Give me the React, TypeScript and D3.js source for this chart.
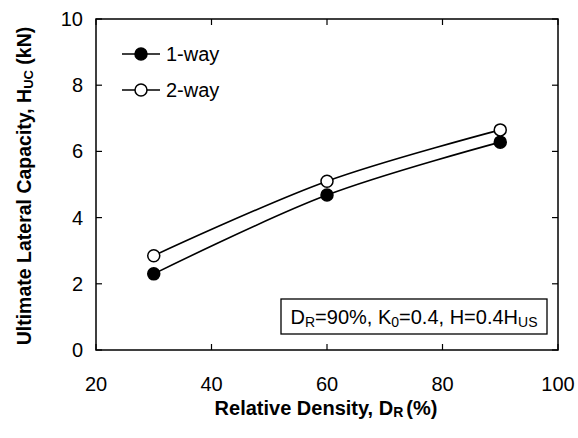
import React from "react";
import * as d3 from "d3";

const densities = [30, 60, 90];
const oneWay = [2.3, 4.68, 6.28];
const twoWay = [2.85, 5.1, 6.65];
const xTicks = [20, 40, 60, 80, 100];
const yTicks = [0, 2, 4, 6, 8, 10];
const seriesNames = ["1-way", "2-way"];

const W = 578, H = 438;
const L = 96, R = 558, T = 19, B = 350;
const font = "'Liberation Sans', Arial, sans-serif";

export default function App() {
  const x = d3.scaleLinear().domain([20, 100]).range([L, R]);
  const y = d3.scaleLinear().domain([0, 10]).range([B, T]);
  const line = d3
    .line<[number, number]>()
    .x((d) => x(d[0]))
    .y((d) => y(d[1]))
    .curve(d3.curveCatmullRom.alpha(0.5));
  const series = [
    { name: seriesNames[0], vals: oneWay, fill: "#000" },
    { name: seriesNames[1], vals: twoWay, fill: "#fff" },
  ];
  return (
    <svg width={W} height={H} style={{ position: "absolute", left: 0, top: 0 }} fontFamily={font}>
      <rect x={0} y={0} width={W} height={H} fill="#fff" />
      <rect x={L} y={T} width={R - L} height={B - T} fill="none" stroke="#000" strokeWidth={1.5} />
      {xTicks.map((t) => (
        <g key={"x" + t}>
          <line x1={x(t)} x2={x(t)} y1={B} y2={B - 6} stroke="#000" strokeWidth={1.2} />
          <line x1={x(t)} x2={x(t)} y1={T} y2={T + 6} stroke="#000" strokeWidth={1.2} />
          <text x={x(t)} y={391} textAnchor="middle" fontSize={20}>{t}</text>
        </g>
      ))}
      {yTicks.map((t) => (
        <g key={"y" + t}>
          <line x1={L} x2={L + 6} y1={y(t)} y2={y(t)} stroke="#000" strokeWidth={1.2} />
          <line x1={R} x2={R - 6} y1={y(t)} y2={y(t)} stroke="#000" strokeWidth={1.2} />
          <text x={83} y={y(t) + 7} textAnchor="end" fontSize={20}>{t}</text>
        </g>
      ))}
      {series.map((s) => {
        const pts = densities.map((d, i) => [d, s.vals[i]] as [number, number]);
        return (
          <g key={s.name}>
            <path d={line(pts) || ""} fill="none" stroke="#000" strokeWidth={1.6} />
            {pts.map((p, i) => (
              <circle key={i} cx={x(p[0])} cy={y(p[1])} r={6} fill={s.fill} stroke="#000" strokeWidth={1.5} />
            ))}
          </g>
        );
      })}
      {series.map((s, i) => {
        const ly = 54 + i * 36;
        return (
          <g key={"lg" + s.name}>
            <line x1={122} x2={160} y1={ly} y2={ly} stroke="#000" strokeWidth={1.6} />
            <circle cx={141} cy={ly} r={6} fill={s.fill} stroke="#000" strokeWidth={1.5} />
            <text x={166} y={ly + 7} fontSize={20}>{s.name}</text>
          </g>
        );
      })}
      <rect x={281} y={299} width={266} height={35} fill="#fff" stroke="#000" strokeWidth={1.3} />
      <text x={414} y={324} textAnchor="middle" fontSize={20}>
        D<tspan fontSize={14} dy={3}>R</tspan>
        <tspan dy={-3}>=90%, K</tspan>
        <tspan fontSize={14} dy={3}>0</tspan>
        <tspan dy={-3}>=0.4, H=0.4H</tspan>
        <tspan fontSize={14} dy={3}>US</tspan>
      </text>
      <text x={326} y={415} textAnchor="middle" fontSize={20} fontWeight="bold">
        Relative Density, D<tspan fontSize={14} dy={2}>R</tspan>
        <tspan dy={-2} dx={3}>(%)</tspan>
      </text>
      <text transform={`translate(31,186) rotate(-90)`} textAnchor="middle" fontSize={19.5} fontWeight="bold">
        Ultimate Lateral Capacity, H<tspan fontSize={13} dy={2}>UC</tspan>
        <tspan dy={-2}> (kN)</tspan>
      </text>
    </svg>
  );
}
